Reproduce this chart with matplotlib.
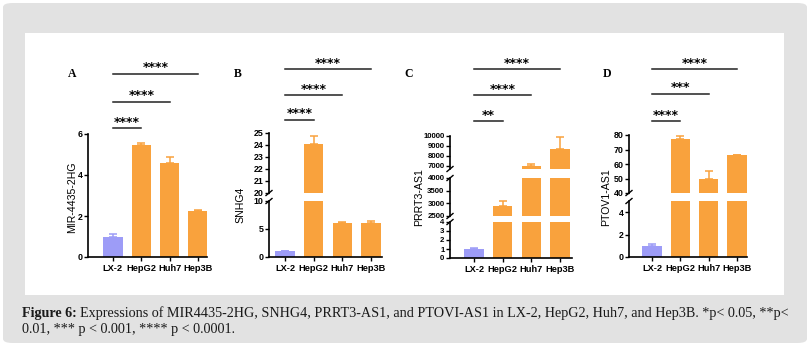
import numpy as np
import matplotlib
matplotlib.use("Agg")
import matplotlib.pyplot as plt
from matplotlib.patches import FancyBboxPatch, Rectangle
from matplotlib.lines import Line2D
import matplotlib.transforms as mtransforms

W, H = 810, 352

cells = ["LX-2", "HepG2", "Huh7", "Hep3B"]

# relative expression (mean, upper error)
mir_vals = [1.0, 5.45, 4.6, 2.25]
mir_err = [0.1, 0.12, 0.28, 0.05]
snhg_vals = [1.0, 24.1, 6.0, 6.1]
snhg_err = [0.05, 0.65, 0.25, 0.4]
prrt_vals = [1.0, 2880, 7050, 8700]
prrt_err = [0.08, 200, 200, 1200]
ptov_vals = [1.0, 77.5, 50, 66]
ptov_err = [0.15, 1.8, 5.5, 0.4]

# significance vs LX-2 (HepG2, Huh7, Hep3B)
sig_a = ["****", "****", "****"]
sig_b = ["****", "****", "****"]
sig_c = ["**", "****", "****"]
sig_d = ["****", "***", "****"]

purple = "#9d9cf7"
orange = "#f9a23d"
colors = [purple, orange, orange, orange]

fig = plt.figure(figsize=(W / 100, H / 100), dpi=100)
fig.patch.set_facecolor("white")


def fx(x):
    return x / W


def fy(y):
    return 1 - y / H


# background boxes
fig.add_artist(FancyBboxPatch((fx(3), fy(343)), fx(804), (340) / H,
                              boxstyle="round,pad=0,rounding_size=0.012",
                              transform=fig.transFigure, facecolor="#e2e2e2",
                              edgecolor="none", zorder=0))
fig.add_artist(Rectangle((fx(25), fy(295)), fx(759), 262 / H,
                         transform=fig.transFigure, facecolor="white",
                         edgecolor="none", zorder=0))


def panel(letter, lx, vals, errs, ylabel, ylx, yly, x0, x1, xlim, segs, sig, sig_y,
          tsize=6.4):
    axes = []
    for i, (lo, hi, ytop, ybot, ticks) in enumerate(segs):
        ax = fig.add_axes([fx(x0), fy(ybot), (x1 - x0) / W, (ybot - ytop) / H])
        ax.patch.set_alpha(0)
        ax.bar(range(4), vals, width=0.68, color=colors, zorder=2)
        for k in range(4):
            ax.errorbar(k, vals[k], yerr=[[0], [errs[k]]], fmt="none",
                        ecolor=colors[k], capsize=3, elinewidth=1.1,
                        capthick=1.1, zorder=3)
        ax.set_ylim(lo, hi)
        ax.set_xlim(*xlim)
        ax.set_yticks(ticks)
        ax.set_yticklabels([str(t) for t in ticks], fontsize=tsize,
                           fontweight="bold", family="Liberation Sans")
        for s in ["top", "right"]:
            ax.spines[s].set_visible(False)
        ax.spines["left"].set_linewidth(1.2)
        ax.tick_params(axis="y", direction="out", length=3, width=1, pad=1)
        if i == 0:
            ax.spines["bottom"].set_linewidth(1.2)
            ax.set_xticks(range(4))
            ax.set_xticklabels(cells, fontsize=6.7, fontweight="bold",
                               family="Liberation Sans")
            ax.tick_params(axis="x", direction="out", length=3, width=1, pad=2)
        else:
            ax.spines["bottom"].set_visible(False)
            ax.set_xticks([])
        axes.append(ax)

    # break marks on the y axis
    for i in range(len(segs) - 1):
        for yb in (segs[i][2], segs[i + 1][3]):
            fig.add_artist(Line2D([fx(x0 - 3), fx(x0 + 3)], [fy(yb + 2.5), fy(yb - 2.5)],
                                  transform=fig.transFigure, color="black", lw=1))

    fig.text(fx(ylx), fy(yly), ylabel, rotation=90, ha="center", va="center",
             fontsize=7.6, family="Liberation Sans")
    fig.text(fx(lx), fy(74), letter, ha="center", va="center", fontsize=8.5,
             fontweight="bold", family="Liberation Serif")

    trans = mtransforms.blended_transform_factory(axes[0].transData, fig.transFigure)
    for j, lab in enumerate(sig):
        ly = sig_y[j]
        fig.add_artist(Line2D([0, j + 1], [fy(ly), fy(ly)], transform=trans,
                              color="#222222", lw=1.1))
        fig.text((j + 1) / 2, fy(ly - 6), lab, transform=trans, ha="center",
                 va="center", fontsize=9, fontweight="bold",
                 family="DejaVu Sans")
    return axes


panel("A", 72, mir_vals, mir_err, "MIR-4435-2HG", 72, 197, 88, 207, (-0.88, 3.32),
      [(0, 6, 134, 257, [0, 2, 4, 6])], sig_a, [128, 102, 74])

panel("B", 238, snhg_vals, snhg_err, "SNHG4", 240, 205, 269, 382, (-0.56, 3.38),
      [(0, 10, 201, 257, [0, 5, 10]),
       (20, 25, 133, 193, [20, 21, 22, 23, 24, 25])], sig_b, [120, 95, 69])

panel("C", 409, prrt_vals, prrt_err, "PRRT3-AS1", 419, 197, 450, 572, (-0.84, 3.42),
      [(0, 4, 222, 258, [0, 1, 2, 3, 4]),
       (2500, 4000, 178, 216, [2500, 3000, 3500, 4000]),
       (6700, 10000, 136, 169, [7000, 8000, 9000, 10000])], sig_c, [121, 95, 69],
      tsize=5.6)

panel("D", 607, ptov_vals, ptov_err, "PTOV1-AS1", 606, 197, 629, 747, (-0.81, 3.35),
      [(0, 5, 201, 257, [0, 2, 4]),
       (40, 80, 135, 193, [40, 50, 60, 70, 80])], sig_d, [121, 94, 69])

# caption
cap_kw = dict(fontsize=10.2, family="Liberation Serif", color="#1a1a1a", va="center")
t0 = fig.text(fx(22), fy(313), "Figure 6:", fontweight="bold", **cap_kw)
renderer = fig.canvas.get_renderer()
bb = t0.get_window_extent(renderer=renderer)
fig.text(bb.x1 / W + 3 / W, fy(313),
         "Expressions of MIR4435-2HG, SNHG4, PRRT3-AS1, and PTOVI-AS1 in LX-2, "
         "HepG2, Huh7, and Hep3B. *p< 0.05, **p<", **cap_kw)
fig.text(fx(22), fy(330), "0.01, *** p < 0.001, **** p < 0.0001.", **cap_kw)

fig.savefig("out.png", dpi=100)
